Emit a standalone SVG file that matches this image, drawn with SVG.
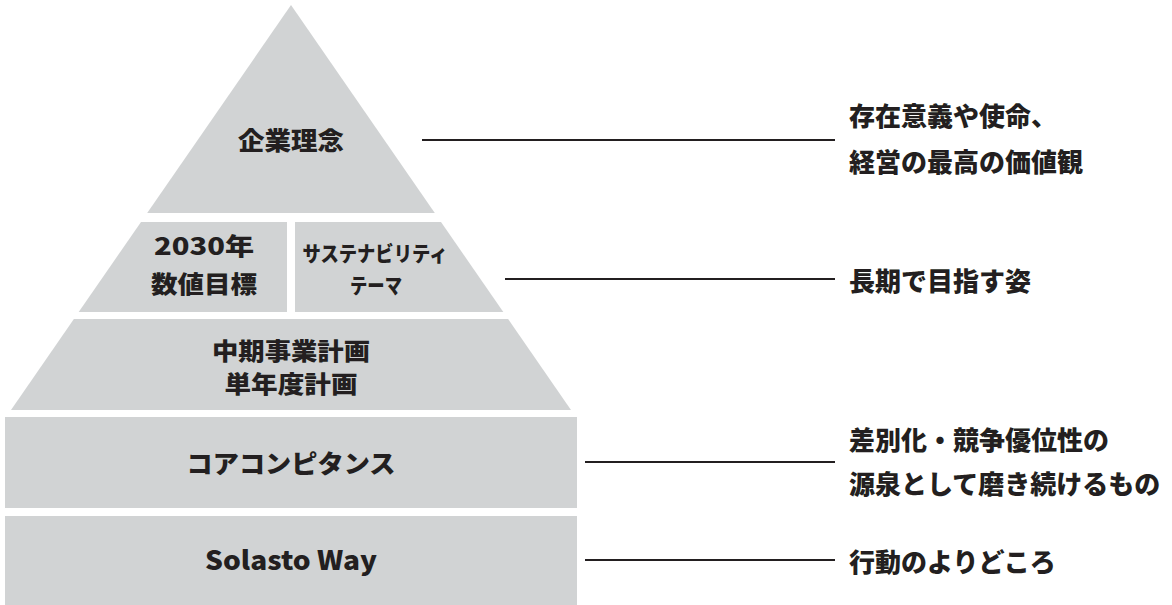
<svg xmlns="http://www.w3.org/2000/svg" width="1172" height="605" viewBox="0 0 1172 605">
<style>
.shape{fill:#d1d3d4}
.lbl{font-family:"Noto Sans CJK JP","Noto Sans",sans-serif;font-weight:900;fill:#231f20;text-anchor:middle}
.rt{font-family:"Noto Sans CJK JP","Noto Sans",sans-serif;font-weight:900;fill:#231f20;font-size:26px}
.conn{stroke:#231f20;stroke-width:2;fill:none}
</style>
<rect x="0" y="0" width="1172" height="605" fill="#ffffff"/>
<g id="node-philosophy">
<polygon class="shape" points="291,5 434.8,213 147.2,213"/>
<text class="lbl" x="291" y="150" font-size="25" textLength="106" lengthAdjust="spacingAndGlyphs">企業理念</text>
</g>
<g id="node-targets">
<polygon class="shape" points="141,222 287,222 287,312 78.7,312"/>
<text class="lbl" x="204" y="255" font-size="24" textLength="100" lengthAdjust="spacingAndGlyphs">2030年</text>
<text class="lbl" x="204" y="293" font-size="24" textLength="106" lengthAdjust="spacingAndGlyphs">数値目標</text>
</g>
<g id="node-sustainability">
<polygon class="shape" points="295,222 441,222 503.3,312 295,312"/>
<text class="lbl" x="375" y="261" font-size="21" textLength="145" lengthAdjust="spacingAndGlyphs">サステナビリティ</text>
<text class="lbl" x="376" y="293" font-size="21" textLength="52" lengthAdjust="spacingAndGlyphs">テーマ</text>
</g>
<g id="node-plans">
<polygon class="shape" points="73.9,319 508.1,319 571,410 11,410"/>
<text class="lbl" x="291" y="360" font-size="24" textLength="158" lengthAdjust="spacingAndGlyphs">中期事業計画</text>
<text class="lbl" x="291" y="393" font-size="24" textLength="133" lengthAdjust="spacingAndGlyphs">単年度計画</text>
</g>
<g id="node-core">
<rect class="shape" x="5" y="417" width="572" height="91"/>
<text class="lbl" x="291" y="473" font-size="25" textLength="209" lengthAdjust="spacingAndGlyphs">コアコンピタンス</text>
</g>
<g id="node-way">
<rect class="shape" x="5" y="516" width="572" height="89"/>
<text class="lbl" x="291" y="570" font-size="26" font-family="'Noto Sans',sans-serif" font-weight="600" textLength="172" lengthAdjust="spacingAndGlyphs">Solasto Way</text>
</g>
<g id="connectors">
<line class="conn" x1="422" y1="140" x2="835" y2="140"/>
<line class="conn" x1="505" y1="279" x2="835" y2="279"/>
<line class="conn" x1="585" y1="462" x2="835" y2="462"/>
<line class="conn" x1="585" y1="560" x2="835" y2="560"/>
</g>
<g id="labels-right">
<text class="rt" x="849" y="126">存在意義や使命、</text>
<text class="rt" x="849" y="172">経営の最高の価値観</text>
<text class="rt" x="849" y="291">長期で目指す姿</text>
<text class="rt" x="849" y="450">差別化・競争優位性の</text>
<text class="rt" x="849" y="494">源泉として磨き続けるもの</text>
<text class="rt" x="849" y="572">行動のよりどころ</text>
</g>
</svg>
